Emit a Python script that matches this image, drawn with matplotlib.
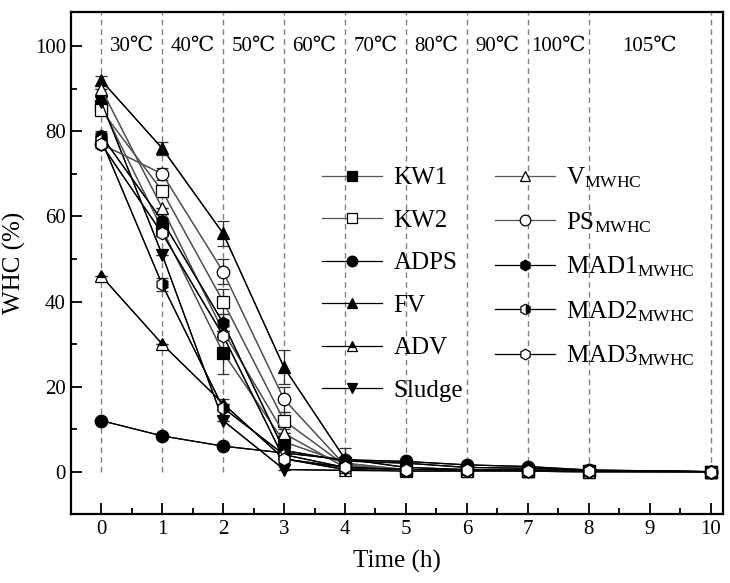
import matplotlib
matplotlib.use('Agg')
import matplotlib.pyplot as plt
from matplotlib.ticker import MultipleLocator

plt.rcParams['font.family'] = ['Liberation Serif', 'DejaVu Serif', 'DejaVu Sans']
plt.rcParams['mathtext.fontset'] = 'custom'
plt.rcParams['mathtext.rm'] = 'Liberation Serif'

# time points (h)
hours = [0, 1, 2, 3, 4, 5, 6, 7, 8, 10]

# WHC (%) per sample
kw1 = [86, 57, 28, 7, 2.0, 0.5, 0.3, 0.2, 0.1, 0]
kw2 = [85, 66, 40, 12, 1.5, 0.4, 0.3, 0.2, 0.1, 0]
adps = [12, 8.4, 6, 4.4, 2.8, 2.4, 1.6, 1.2, 0.4, 0]
fv = [92, 76, 56, 24.5, 3, 1.0, 0.5, 0.4, 0.2, 0]
adv = [46, 30, 16, 3, 0.5, 0.2, 0.1, 0.1, 0, 0]
sludge = [87, 51, 12, 0.5, 0.3, 0.2, 0.1, 0.1, 0, 0]
v_mwhc = [90, 62, 33, 9, 1, 0.3, 0.2, 0.1, 0, 0]
ps_mwhc = [77, 70, 47, 17, 1.5, 0.4, 0.3, 0.2, 0.1, 0]
mad1_mwhc = [79, 59, 35, 5, 2.5, 2.0, 1.0, 0.8, 0.3, 0]
mad2_mwhc = [78, 44, 15, 4, 1, 0.5, 0.3, 0.2, 0.1, 0]
mad3_mwhc = [77, 56, 32, 3, 1, 0.5, 0.3, 0.2, 0.1, 0]

# error bars (std)
kw1_err = [1, 1.5, 5, 2, 0.5, 0, 0, 0, 0, 0]
kw2_err = [1, 1.5, 3, 2, 0.5, 0, 0, 0, 0, 0]
fv_err = [1, 1.5, 3, 4, 2.5, 0, 0, 0, 0, 0]
ps_err = [1, 1.5, 3, 3, 0.5, 0, 0, 0, 0, 0]
mad_err = [1, 1.5, 2, 1.5, 0.5, 0, 0, 0, 0, 0]
zero_err = [0] * 10

temp_labels = ['30\u2103', '40\u2103', '50\u2103', '60\u2103', '70\u2103',
               '80\u2103', '90\u2103', '100\u2103', '105\u2103']
temp_pos = [0.5, 1.5, 2.5, 3.5, 4.5, 5.5, 6.5, 7.5, 9]
step_lines = [0, 1, 2, 3, 4, 5, 6, 7, 8, 10]

series = [
    ('KW1', kw1, kw1_err, 's', 'full', '#555555'),
    ('KW2', kw2, kw2_err, 's', 'none', '#555555'),
    ('ADPS', adps, zero_err, 'o', 'full', 'k'),
    ('FV', fv, fv_err, '^', 'full', 'k'),
    ('ADV', adv, zero_err, '^', 'top', 'k'),
    ('Sludge', sludge, zero_err, 'v', 'full', 'k'),
    (r'$\mathregular{V_{MWHC}}$', v_mwhc, zero_err, '^', 'none', '#555555'),
    (r'$\mathregular{PS_{MWHC}}$', ps_mwhc, ps_err, 'o', 'none', '#555555'),
    (r'$\mathregular{MAD1_{MWHC}}$', mad1_mwhc, mad_err, 'h', 'full', 'k'),
    (r'$\mathregular{MAD2_{MWHC}}$', mad2_mwhc, mad_err, 'h', 'right', 'k'),
    (r'$\mathregular{MAD3_{MWHC}}$', mad3_mwhc, zero_err, 'h', 'none', 'k'),
]

fig = plt.figure(figsize=(7.30, 5.83), dpi=100)
ax = fig.add_axes([0.097, 0.118, 0.893, 0.861])

ax.vlines(step_lines, 0, 108, colors='#808080', linestyles=(0, (4, 3)), lw=1, zorder=1)

for label, vals, err, mk, fs, lc in series:
    ax.errorbar(hours, vals, yerr=err, color=lc, lw=0.9, ecolor='#333333',
                elinewidth=0.9, capsize=4, capthick=0.9, zorder=3)
    if fs == 'none':
        # open marker, white face
        ax.plot(hours, vals, color=lc, lw=0.9, marker=mk, ms=9,
                markerfacecolor='w', markeredgecolor='k', markeredgewidth=0.9,
                label=label, zorder=4)
    else:
        ax.plot(hours, vals, color=lc, lw=0.9, marker=mk, ms=9,
                fillstyle=fs, markerfacecolor='k', markerfacecoloralt='w',
                markeredgecolor='k', markeredgewidth=0.9, label=label, zorder=4)

for t, xp in zip(temp_labels, temp_pos):
    ax.text(xp, 100, t, ha='center', va='center', fontsize=15)

ax.set_xlim(-0.5, 10.2)
ax.set_ylim(-10, 108)
ax.xaxis.set_major_locator(MultipleLocator(1))
ax.xaxis.set_minor_locator(MultipleLocator(0.5))
ax.yaxis.set_major_locator(MultipleLocator(20))
ax.yaxis.set_minor_locator(MultipleLocator(10))
ax.tick_params(which='both', direction='in', width=1.3, labelsize=15)
ax.tick_params(which='major', length=8)
ax.tick_params(axis='x', pad=4)
ax.tick_params(which='minor', length=4.5)
for s in ax.spines.values():
    s.set_linewidth(1.6)

ax.set_xlabel('Time (h)', fontsize=18, labelpad=8)
ax.set_ylabel('WHC (%)', fontsize=18, labelpad=6)

handles, labels = ax.get_legend_handles_labels()
ax.legend(handles, labels, ncol=2, loc='upper left', bbox_to_anchor=(0.386, 0.695),
          frameon=False, fontsize=18, handlelength=2.4, handletextpad=0.45,
          labelspacing=0.8, columnspacing=1.25, borderpad=0, borderaxespad=0,
          markerscale=0.85)

fig.savefig('out.png', dpi=100)
